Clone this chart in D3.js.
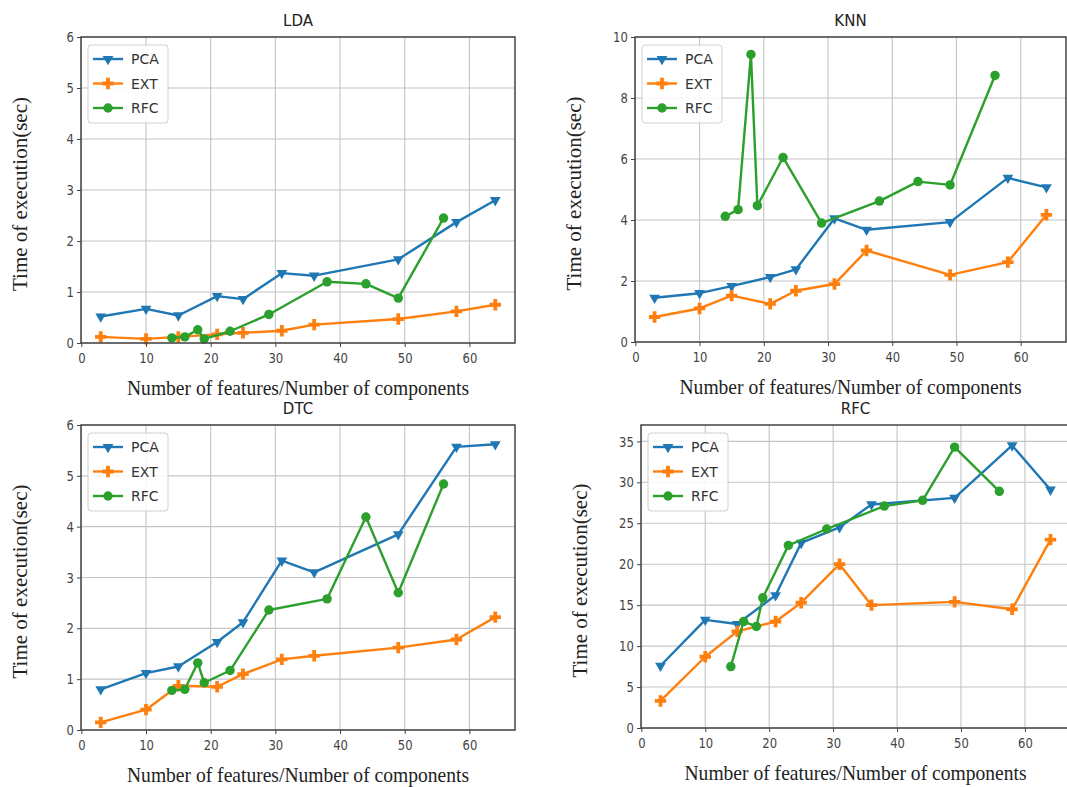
<!DOCTYPE html>
<html>
<head>
<meta charset="utf-8">
<script src="https://cdn.jsdelivr.net/npm/d3@7"></script>
<style>
  body { margin: 0; background: #fff; }
  svg { display: block; }
</style>
</head>
<body>
<div id="chart"></div>
<script>
// x positions (number of features / components)
var xPCA = [3, 10, 15, 21, 25, 31, 36, 49, 58, 64];
var xEXT = [3, 10, 15, 21, 25, 31, 36, 49, 58, 64];
var xRFC = [14, 16, 18, 19, 23, 29, 38, 44, 49, 56];
var seriesNames = ["PCA", "EXT", "RFC"];
var panelTitles = ["LDA", "KNN", "DTC", "RFC"];

// LDA
var ldaPCA = [0.52, 0.67, 0.54, 0.92, 0.86, 1.37, 1.32, 1.64, 2.37, 2.8];
var ldaEXT = [0.12, 0.08, 0.12, 0.17, 0.2, 0.24, 0.36, 0.47, 0.62, 0.75];
var ldaRFC = [0.1, 0.12, 0.26, 0.08, 0.23, 0.56, 1.2, 1.16, 0.88, 2.45];
// KNN
var knnPCA = [1.45, 1.6, 1.83, 2.13, 2.38, 4.05, 3.68, 3.93, 5.38, 5.07];
var knnEXT = [0.82, 1.1, 1.52, 1.25, 1.68, 1.9, 3.0, 2.2, 2.62, 4.17];
var knnRFC = [4.12, 4.34, 9.43, 4.47, 6.05, 3.9, 4.62, 5.26, 5.15, 8.74];
// DTC
var dtcPCA = [0.8, 1.12, 1.25, 1.73, 2.12, 3.33, 3.1, 3.85, 5.57, 5.62];
var dtcEXT = [0.15, 0.4, 0.87, 0.85, 1.1, 1.39, 1.46, 1.62, 1.78, 2.22];
var dtcRFC = [0.78, 0.8, 1.32, 0.93, 1.17, 2.36, 2.58, 4.19, 2.7, 4.84];
// RFC
var rfcPCA = [7.6, 13.2, 12.7, 16.2, 22.6, 24.5, 27.3, 28.1, 34.5, 29.1];
var rfcEXT = [3.3, 8.7, 11.8, 13.0, 15.3, 20.0, 15.0, 15.4, 14.5, 23.0];
var rfcRFC = [7.5, 13.0, 12.4, 15.9, 22.3, 24.3, 27.1, 27.8, 34.3, 28.9];

var xTicks = [0, 10, 20, 30, 40, 50, 60];
var yTicksLDA = [0, 1, 2, 3, 4, 5, 6];
var yTicksKNN = [0, 2, 4, 6, 8, 10];
var yTicksDTC = [0, 1, 2, 3, 4, 5, 6];
var yTicksRFC = [0, 5, 10, 15, 20, 25, 30, 35];

var W = 1067, H = 787;
var colors = ["#1f77b4", "#ff7f0e", "#2ca02c"];
var symbols = [
  d3.symbol().type(d3.symbolTriangle).size(50),
  d3.symbol().type(d3.symbolCross).size(72),
  d3.symbol().type(d3.symbolCircle).size(70)
];

var xsAll = [xPCA, xEXT, xRFC];
var panels = [
  { title: panelTitles[0], l: 81, t: 37, r: 515, b: 343, ymax: 6, yticks: yTicksLDA, ys: [ldaPCA, ldaEXT, ldaRFC] },
  { title: panelTitles[1], l: 635, t: 37, r: 1066, b: 342, ymax: 10, yticks: yTicksKNN, ys: [knnPCA, knnEXT, knnRFC] },
  { title: panelTitles[2], l: 81, t: 425, r: 515, b: 730, ymax: 6, yticks: yTicksDTC, ys: [dtcPCA, dtcEXT, dtcRFC] },
  { title: panelTitles[3], l: 641, t: 425, r: 1070, b: 728, ymax: 37, yticks: yTicksRFC, ys: [rfcPCA, rfcEXT, rfcRFC] }
];

var svg = d3.select("#chart").append("svg")
  .attr("width", W)
  .attr("height", H);

svg.append("rect").attr("width", W).attr("height", H).attr("fill", "#fff");

panels.forEach(function(p) {
  var x = d3.scaleLinear().domain([-0.05, 67.05]).range([p.l, p.r]);
  var y = d3.scaleLinear().domain([0, p.ymax]).range([p.b, p.t]);
  var g = svg.append("g").attr("class", "panel");

  // grid
  g.selectAll(".gx").data(xTicks).enter().append("line")
    .attr("x1", function(d) { return x(d); })
    .attr("x2", function(d) { return x(d); })
    .attr("y1", p.t).attr("y2", p.b)
    .attr("stroke", "#c4c4c4").attr("stroke-width", 1.1);
  g.selectAll(".gy").data(p.yticks).enter().append("line")
    .attr("x1", p.l).attr("x2", p.r)
    .attr("y1", function(d) { return y(d); })
    .attr("y2", function(d) { return y(d); })
    .attr("stroke", "#c4c4c4").attr("stroke-width", 1.1);

  // series
  var line = d3.line()
    .x(function(d) { return x(d[0]); })
    .y(function(d) { return y(d[1]); });
  p.ys.forEach(function(vals, i) {
    var pts = vals.map(function(v, k) { return [xsAll[i][k], v]; });
    g.append("path")
      .datum(pts)
      .attr("fill", "none")
      .attr("stroke", colors[i])
      .attr("stroke-width", 2.4)
      .attr("stroke-linejoin", "round")
      .attr("d", line);
    g.selectAll(".m" + i).data(pts).enter().append("path")
      .attr("d", symbols[i])
      .attr("fill", colors[i])
      .attr("transform", function(d) {
        return "translate(" + x(d[0]) + "," + y(d[1]) + ")" + (i == 0 ? " rotate(180)" : "");
      });
  });

  // axes
  var xAxis = d3.axisBottom(x).tickValues(xTicks).tickSize(4).tickPadding(6).tickFormat(d3.format("d"));
  var yAxis = d3.axisLeft(y).tickValues(p.yticks).tickSize(4).tickPadding(5).tickFormat(d3.format("d"));
  var ax = g.append("g").attr("transform", "translate(0," + p.b + ")").call(xAxis);
  var ay = g.append("g").attr("transform", "translate(" + p.l + ",0)").call(yAxis);
  [ax, ay].forEach(function(a) {
    a.select(".domain").remove();
    a.selectAll("line").attr("stroke", "#444");
    a.selectAll("text")
      .attr("fill", "#444")
      .style("font-family", "DejaVu Sans, sans-serif")
      .style("font-size", "14.5px")
      .attr("transform", "scale(0.8,1)");
  });

  // frame
  g.append("rect")
    .attr("x", p.l).attr("y", p.t)
    .attr("width", p.r - p.l).attr("height", p.b - p.t)
    .attr("fill", "none").attr("stroke", "#444").attr("stroke-width", 1.5);

  // title
  g.append("text")
    .attr("x", (p.l + p.r) / 2).attr("y", p.t - 11)
    .attr("text-anchor", "middle")
    .style("font-family", "DejaVu Sans, sans-serif")
    .style("font-size", "15px")
    .attr("fill", "#222")
    .text(p.title);

  // axis labels
  g.append("text")
    .attr("x", (p.l + p.r) / 2).attr("y", p.b + 52)
    .attr("text-anchor", "middle")
    .attr("textLength", 342).attr("lengthAdjust", "spacingAndGlyphs")
    .style("font-family", "Liberation Serif, serif")
    .style("font-size", "21px")
    .attr("fill", "#222")
    .text("Number of features/Number of components");
  g.append("text")
    .attr("transform", "translate(" + (p.l - 54) + "," + ((p.t + p.b) / 2 + 4) + ") rotate(-90)")
    .attr("text-anchor", "middle")
    .attr("textLength", 194).attr("lengthAdjust", "spacingAndGlyphs")
    .style("font-family", "Liberation Serif, serif")
    .style("font-size", "21px")
    .attr("fill", "#222")
    .text("Time of execution(sec)");

  // legend
  var lx = p.l + 7, ly = p.t + 8;
  var lg = g.append("g").attr("transform", "translate(" + lx + "," + ly + ")");
  lg.append("rect")
    .attr("width", 80).attr("height", 78).attr("rx", 3)
    .attr("fill", "#fff").attr("fill-opacity", 0.85)
    .attr("stroke", "#d0d0d0");
  seriesNames.forEach(function(name, i) {
    var yy = 14 + i * 24.5;
    lg.append("line")
      .attr("x1", 5).attr("x2", 35).attr("y1", yy).attr("y2", yy)
      .attr("stroke", colors[i]).attr("stroke-width", 2.4);
    lg.append("path")
      .attr("d", symbols[i])
      .attr("fill", colors[i])
      .attr("transform", "translate(20," + yy + ")" + (i == 0 ? " rotate(180)" : ""));
    lg.append("text")
      .attr("x", 43).attr("y", yy + 5)
      .style("font-family", "DejaVu Sans, sans-serif")
      .style("font-size", "14px")
      .attr("fill", "#333")
      .text(name);
  });
});
</script>
</body>
</html>
